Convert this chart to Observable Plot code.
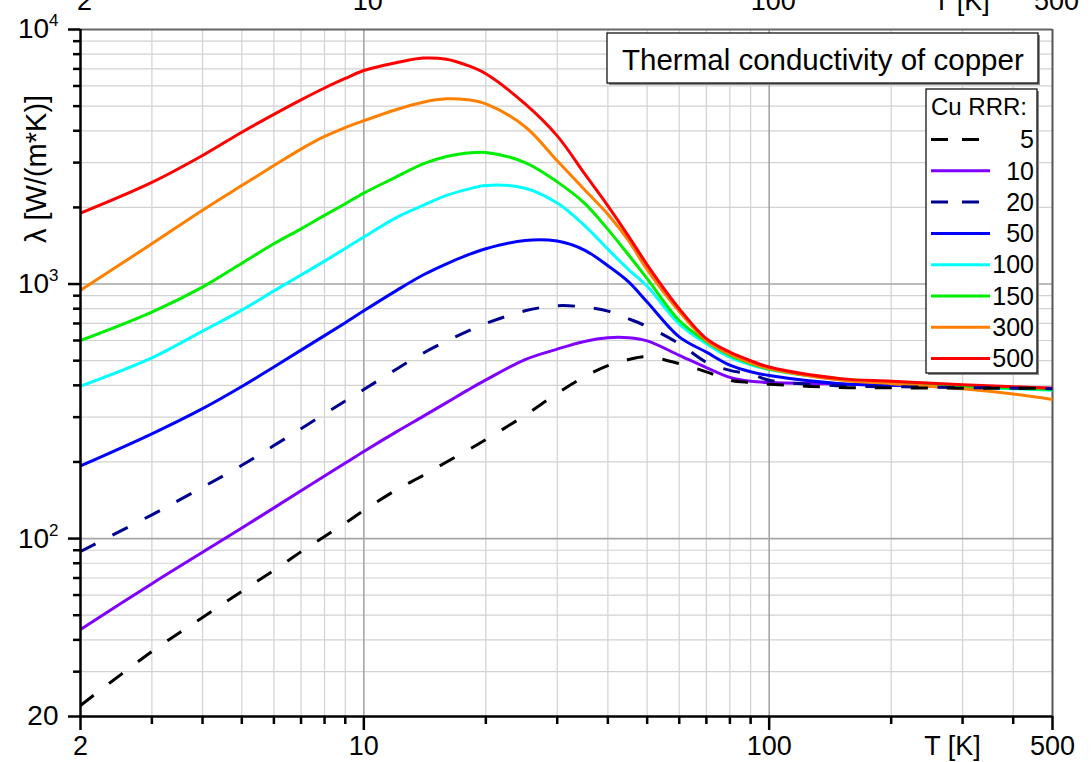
<!DOCTYPE html>
<html>
<head>
<meta charset="utf-8">
<script src="https://cdn.jsdelivr.net/npm/d3@7"></script>
<script src="https://cdn.jsdelivr.net/npm/@observablehq/plot@0.6"></script>
<style>
  html, body { margin: 0; padding: 0; background: #fff; overflow: hidden; }
  svg { display: block; }
</style>
</head>
<body>
<div id="chart"></div>
<script>
// Temperature samples [K]
const temperature = [2, 3, 4, 5, 6, 7, 8, 9, 10, 12, 14, 16, 18, 20, 25, 30, 35, 40, 45, 50, 60, 70, 80, 90, 100, 150, 200, 300, 400, 500];

// Thermal conductivity λ [W/(m*K)] for each residual resistance ratio
const rrr5   = [22.1, 36, 49, 62, 75, 88.7, 102, 115, 129, 155, 177, 200, 222, 245, 305, 372, 432, 478, 505, 518, 487, 452, 419, 410, 404, 392, 391, 390, 390, 390];
const rrr10  = [43.9, 66.5, 88.3, 110, 132, 154, 176, 198, 220, 262, 302, 342, 382, 420, 505, 555, 595, 615, 615, 598, 525, 470, 430, 415, 410, 405, 400, 395, 392, 390];
const rrr20  = [89, 124, 159, 194, 232, 270, 309, 347, 385, 462, 535, 597, 652, 700, 785, 822, 812, 783, 730, 681, 583, 493, 458, 443, 419, 398, 395, 392, 390, 388];
const rrr50  = [193, 258, 324, 396, 472, 550, 627, 705, 785, 940, 1085, 1201, 1298, 1376, 1484, 1475, 1360, 1180, 1020, 850, 620, 540, 480, 452, 437, 406, 400, 395, 390, 386];
const rrr100 = [397, 513, 653, 790, 940, 1085, 1230, 1380, 1530, 1820, 2037, 2229, 2355, 2441, 2380, 2080, 1700, 1370, 1140, 980, 698, 583, 516, 482, 462, 422, 410, 395, 388, 383];
const rrr150 = [600, 776, 973, 1207, 1440, 1648, 1861, 2068, 2277, 2630, 2968, 3172, 3270, 3290, 3000, 2520, 2080, 1640, 1300, 1050, 719, 595, 525, 487, 464, 424, 412, 398, 390, 385];
const rrr300 = [945, 1440, 1950, 2440, 2920, 3390, 3800, 4120, 4380, 4840, 5180, 5340, 5300, 5100, 4150, 3050, 2350, 1880, 1480, 1140, 780, 600, 530, 490, 466, 420, 406, 388, 370, 352];
const rrr500 = [1900, 2510, 3200, 3950, 4640, 5290, 5890, 6420, 6900, 7400, 7720, 7640, 7230, 6700, 5100, 3820, 2720, 2030, 1540, 1190, 800, 610, 540, 500, 472, 425, 415, 402, 395, 390];

// Series metadata
const seriesNames  = ["5", "10", "20", "50", "100", "150", "300", "500"];
const seriesValues = [rrr5, rrr10, rrr20, rrr50, rrr100, rrr150, rrr300, rrr500];
const seriesColors = ["#000000", "#8000ff", "#000090", "#0000ff", "#00ffff", "#00ee00", "#ff8000", "#ff0000"];
const seriesDashed = [true, false, true, false, false, false, false, false];
// solid curves first (lowest RRR at the bottom), dashed curves on top
const drawOrder = [1, 3, 4, 5, 6, 7, 2, 0];

// Axis ticks and grid
const xLabelTicks = [2, 10, 100, 500];
const xMinorTicks = [3, 4, 5, 6, 7, 8, 9, 20, 30, 40, 50, 60, 70, 80, 90, 200, 300, 400];
const xGridMajor  = [10, 100];
const yLabelTicks = [20, 100, 1000, 10000];
const yMinorTicks = [30, 40, 50, 60, 70, 80, 90, 200, 300, 400, 500, 600, 700, 800, 900, 2000, 3000, 4000, 5000, 6000, 7000, 8000, 9000];
const yGridMajor  = [100, 1000];

const titleText  = "Thermal conductivity of copper";
const legendHead = "Cu RRR:";
const xLabel = "T [K]";
const yLabel = "λ [W/(m*K)]";

const font = "'Liberation Sans', Arial, Helvetica, sans-serif";

const rows = seriesNames.map((name, i) =>
  temperature.map((t, j) => ({rrr: name, T: t, k: seriesValues[i][j]}))
);

const curveMarks = drawOrder.map(i => Plot.line(rows[i], {
  x: "T", y: "k",
  stroke: seriesColors[i],
  strokeWidth: 3,
  curve: "catmull-rom",
  strokeDasharray: seriesDashed[i] ? "17,19" : null,
  strokeLinecap: "butt",
  strokeLinejoin: "round"
}));

const plot = Plot.plot({
  width: 1092,
  height: 762,
  marginLeft: 80,
  marginRight: 40,
  marginTop: 29,
  marginBottom: 46,
  style: {fontFamily: font, fontSize: "27px", background: "white", color: "black", overflow: "visible"},
  x: {type: "log", domain: [2, 500]},
  y: {type: "log", domain: [20, 10000]},
  marks: [
    // grid
    Plot.ruleX(xMinorTicks, {stroke: "#d2d2d2", strokeWidth: 1.2}),
    Plot.ruleY(yMinorTicks, {stroke: "#d2d2d2", strokeWidth: 1.2}),
    Plot.ruleX(xGridMajor, {stroke: "#a6a6a6", strokeWidth: 1.6}),
    Plot.ruleY(yGridMajor, {stroke: "#a6a6a6", strokeWidth: 1.6}),
    // top and right frame
    Plot.ruleY([10000], {stroke: "#666", strokeWidth: 2}),
    Plot.ruleX([500], {stroke: "#555", strokeWidth: 2}),
    ...curveMarks,
    // bottom axis: short minor ticks, long labelled ticks hanging below the frame
    Plot.axisX({ticks: xMinorTicks, tickSize: 8, strokeWidth: 2.5, tickFormat: () => "", label: null}),
    Plot.ruleX(xLabelTicks, {x: d => d, y1: 20, y2: 20, insetBottom: -14, stroke: "black", strokeWidth: 2.5}),
    Plot.text(xLabelTicks, {x: d => d, text: d => String(d), frameAnchor: "bottom", dy: 19, lineAnchor: "top", textAnchor: "middle", fontSize: 27}),
    // top axis labels
    Plot.text(xLabelTicks, {x: d => d, text: d => String(d), frameAnchor: "top", dx: 4, dy: -20, lineAnchor: "bottom", textAnchor: "middle", fontSize: 27}),
    // left axis
    Plot.axisY({ticks: yMinorTicks, tickSize: 7, strokeWidth: 2.5, tickFormat: () => "", label: null}),
    Plot.axisY({ticks: yLabelTicks, tickSize: 12, tickPadding: 10, strokeWidth: 2.5, fontSize: 28, label: null,
      tickFormat: d => d === 20 ? "20" : "10^" + Math.round(Math.log10(d))}),
    Plot.ruleY([20], {stroke: "black", strokeWidth: 2.5}),
    Plot.ruleX([2], {stroke: "black", strokeWidth: 2.5}),
    // axis titles
    Plot.text([xLabel], {frameAnchor: "bottom-right", dx: -100, dy: 19, lineAnchor: "top", textAnchor: "middle", fontSize: 27}),
    Plot.text([xLabel], {frameAnchor: "top-right", dx: -91, dy: -20, lineAnchor: "bottom", textAnchor: "middle", fontSize: 27}),
    Plot.text([yLabel], {frameAnchor: "left", dx: -44, dy: -204, rotate: -90, textAnchor: "middle", lineAnchor: "middle", fontSize: 29})
  ]
});

document.getElementById("chart").appendChild(plot);

const svg = d3.select(plot);

// powers of ten with raised exponents
svg.selectAll('g[aria-label="y-axis tick label"] text').each(function () {
  const s = this.textContent;
  if (s.includes("^")) {
    const [base, exp] = s.split("^");
    this.textContent = "";
    const t = d3.select(this);
    t.append("tspan").text(base);
    t.append("tspan").attr("dy", -12).attr("font-size", 17).text(exp);
  }
});

// title box
const tb = {x: 607, y: 33, w: 431, h: 50};
const titleG = svg.append("g").attr("text-anchor", "start");
titleG.append("rect").attr("x", tb.x + 2).attr("y", tb.y + 2).attr("width", tb.w).attr("height", tb.h).attr("fill", "#8a8a8a");
titleG.append("rect").attr("x", tb.x).attr("y", tb.y).attr("width", tb.w).attr("height", tb.h)
  .attr("fill", "white").attr("stroke", "black").attr("stroke-width", 1.2);
titleG.append("text").attr("x", tb.x + 15).attr("y", tb.y + 37).attr("text-anchor", "start")
  .attr("font-family", font).attr("font-size", 29.5).attr("fill", "black").text(titleText);

// legend box
const lb = {x: 926, y: 89, w: 111, h: 284};
const legendG = svg.append("g").attr("text-anchor", "start");
legendG.append("rect").attr("x", lb.x + 2).attr("y", lb.y + 2).attr("width", lb.w).attr("height", lb.h).attr("fill", "#8a8a8a");
legendG.append("rect").attr("x", lb.x).attr("y", lb.y).attr("width", lb.w).attr("height", lb.h)
  .attr("fill", "white").attr("stroke", "black").attr("stroke-width", 1.2);
legendG.append("text").attr("x", lb.x + 5).attr("y", lb.y + 26).attr("text-anchor", "start")
  .attr("font-family", font).attr("font-size", 24).attr("fill", "black").text(legendHead);
seriesNames.forEach((name, i) => {
  const cy = lb.y + 50.5 + i * 31.3;
  legendG.append("line").attr("x1", lb.x + 5).attr("x2", lb.x + 64).attr("y1", cy).attr("y2", cy)
    .attr("stroke", seriesColors[i]).attr("stroke-width", 3)
    .attr("stroke-dasharray", seriesDashed[i] ? "17,14" : null);
  legendG.append("text").attr("x", lb.x + 108).attr("y", cy).attr("dy", "0.35em")
    .attr("text-anchor", "end").attr("font-family", font).attr("font-size", 25).attr("fill", "black").text(name);
});
</script>
</body>
</html>
